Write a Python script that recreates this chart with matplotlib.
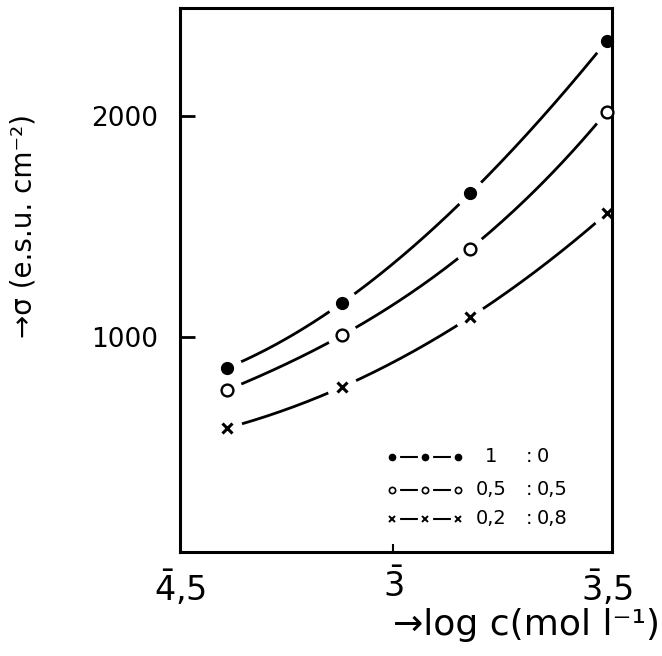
import numpy as np
import matplotlib
matplotlib.use('Agg')
import matplotlib.pyplot as plt

# values
log_c = [-3.39, -3.12, -2.82, -2.50]
sigma_1_0 = [860, 1155, 1650, 2340]
sigma_05_05 = [760, 1008, 1400, 2020]
sigma_02_08 = [588, 774, 1090, 1560]
ratio_a = ['1', '0,5', '0,2']
ratio_b = ['0', '0,5', '0,8']
x_ticks = [-3.5, -3.0, -2.5]
x_tick_labels = [r'$\bar{4}{,}5$', r'$\bar{3}$', r'$\bar{3}{,}5$']
y_ticks = [1000, 2000]
y_tick_labels = ['1000', '2000']

plt.rcParams['font.family'] = ['DejaVu Sans']
plt.rcParams['mathtext.fontset'] = 'dejavusans'

fig = plt.figure(figsize=(6.62, 6.56), dpi=100)
ax = fig.add_axes([180 / 662, 1 - 552 / 656, 432 / 662, 544 / 656])

styles = [dict(marker='o', mfc='black', mec='black', ms=8.5),
          dict(marker='o', mfc='white', mec='black', ms=8.5, mew=1.7),
          dict(marker='x', mec='black', ms=7.5, mew=2.2)]
series = [sigma_1_0, sigma_05_05, sigma_02_08]

xs = np.linspace(log_c[0], log_c[-1], 200)
for vals, st in zip(series, styles):
    coef = np.polyfit(log_c, vals, 3)
    ax.plot(xs, np.polyval(coef, xs), color='black', lw=2.0, zorder=2)
    # white halo -> small gap between curve and point, as in the print
    ax.plot(log_c, vals, 'o', color='white', ms=21, zorder=2.2)
    ax.plot(log_c, vals, ls='none', zorder=3, clip_on=False, **st)

# legend drawn by hand (sample line + two aligned columns)
rows_y = [0.175, 0.114, 0.061]
small = [dict(marker='o', mfc='black', mec='black', ms=4.5),
         dict(marker='o', mfc='white', mec='black', ms=4.5, mew=1.2),
         dict(marker='x', mec='black', ms=4, mew=1.4)]
for i, y in enumerate(rows_y):
    px = [0.491, 0.5675, 0.644]
    ax.plot([px[0], px[-1]], [y, y], color='black', lw=1.5, transform=ax.transAxes, zorder=2)
    ax.plot(px, [y] * 3, 'o', color='white', ms=10, transform=ax.transAxes, zorder=2.2)
    ax.plot(px, [y] * 3, ls='none', transform=ax.transAxes, zorder=3, **small[i])
    ax.text(0.72, y, ratio_a[i], ha='center', va='center', fontsize=14, transform=ax.transAxes)
    ax.text(0.80, y, ':', ha='left', va='center', fontsize=14, transform=ax.transAxes)
    ax.text(0.826, y, ratio_b[i], ha='left', va='center', fontsize=14, transform=ax.transAxes)

ax.set_xlim(-3.5, -2.488)
ax.set_ylim(27, 2489)
ax.set_xticks(x_ticks)
ax.set_xticklabels(x_tick_labels)
ax.set_yticks(y_ticks)
ax.set_yticklabels(y_tick_labels)
ax.tick_params(axis='y', direction='in', length=11, width=2, labelsize=19, pad=16)
ax.tick_params(axis='x', direction='in', length=6, width=1.5, labelsize=24, pad=12)
for k in (0, 2):
    ax.xaxis.get_major_ticks()[k].tick1line.set_visible(False)
for s in ax.spines.values():
    s.set_linewidth(2.2)

ax.set_ylabel('→σ (e.s.u. cm⁻²)', fontsize=20, va='center')
ax.yaxis.set_label_coords(-0.363, 0.60)
ax.set_xlabel('→log c(mol l⁻¹)', fontsize=26, ha='right', va='center')
ax.xaxis.set_label_coords(1.111, -0.134)

fig.savefig('out.png', dpi=100)
